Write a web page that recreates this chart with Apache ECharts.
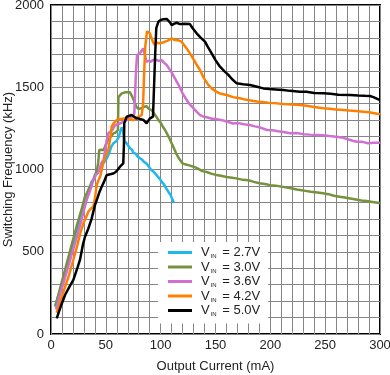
<!DOCTYPE html>
<html>
<head>
<meta charset="utf-8">
<script src="https://cdn.jsdelivr.net/npm/echarts@6/dist/echarts.min.js"></script>
<style>
  html, body { margin: 0; padding: 0; background: #fff; }
  #main { width: 390px; height: 375px; }
</style>
</head>
<body>
<div id="main"></div>
<script>
// [output current mA, switching frequency kHz]
var vin27 = [[3.6,166],[8,260],[12,350],[16,440],[20,531],[24,630],[28,720],[31,790],[34,855],[36,900],[37,926],[39,940],[40,967],[42,975],[43,990],[45,1000],[47,1030],[49,1050],[51,1068],[53,1100],[55,1139],[57,1160],[58,1169],[60,1175],[62,1200],[63,1230],[64.5,1255],[65.5,1240],[67,1175],[68,1165],[70,1150],[72,1129],[74,1120],[75,1100],[76,1110],[77,1098],[79,1078],[81,1070],[83,1060],[85,1045],[87,1037],[89,1020],[91,1000],[93,990],[95,976],[97,960],[99,945],[101,925],[103,910],[105,885],[107,865],[109,845],[111,815],[112,800]];
var vin30 = [[4,170],[8,270],[12,370],[16,470],[20,571],[24,670],[28,760],[31,835],[33,860],[35,890],[36,900],[38,930],[40,960],[42,1000],[43,1040],[44,1119],[46,1120],[48,1118],[50,1150],[52,1180],[54,1195],[57,1220],[59,1225],[61,1240],[61.5,1440],[63,1450],[64.5,1463],[66,1465],[68,1470],[70,1470],[71,1460],[72,1470],[73.5,1463],[75,1430],[76.5,1402],[78,1380],[80,1368],[81,1362],[83,1375],[85,1382],[87,1385],[89,1370],[90,1372],[92,1360],[94,1340],[96,1321],[98,1300],[100,1285],[102,1260],[104,1240],[106,1215],[108,1189],[110,1160],[112,1130],[114,1100],[116,1075],[118,1055],[120,1037],[123,1030],[126,1025],[130,1017],[134,1005],[138,990],[142,985],[146,975],[151,966],[156,960],[160,955],[165,950],[169,946],[175,937],[180,935],[185,925],[190,916],[195,912],[200,905],[205,902],[210,896],[215,890],[220,885],[224,878],[227,875],[232,870],[237,865],[243,860],[248,855],[253,850],[258,840],[263,835],[268,830],[273,824],[278,818],[283,812],[288,808],[293,803],[298,798],[300,795]];
var vin36 = [[4.5,150],[8,235],[12,325],[16,415],[20,510],[24,600],[28,700],[32.5,815],[35,860],[37,900],[38.6,936],[40,950],[41,970],[43,980],[44.7,987],[46,1040],[48,1060],[49,1100],[50.8,1179],[52.3,1220],[54,1225],[56,1240],[58.4,1270],[60,1275],[63,1280],[66,1290],[69,1300],[72,1311],[74,1320],[76,1340],[77,1343],[77.5,1600],[78.5,1696],[81,1706],[82.5,1720],[84,1736],[85.5,1700],[87,1655],[89,1660],[91,1655],[93,1665],[96,1666],[99,1660],[101,1665],[103,1650],[105.5,1635],[108,1610],[110,1590],[113,1554],[115,1530],[117,1505],[120,1463],[123,1430],[126,1400],[130,1372],[133,1350],[136,1331],[139,1321],[142,1318],[146,1310],[151,1306],[156,1300],[161,1290],[166,1280],[171,1282],[176,1275],[181,1270],[186,1262],[191,1255],[197,1240],[202,1238],[207,1232],[212,1228],[218,1220],[224,1222],[230,1215],[236,1212],[242,1210],[248,1208],[254,1203],[260,1199],[265,1195],[270,1185],[275,1175],[279,1169],[284,1168],[289,1160],[294,1162],[298,1163],[300,1162]];
var vin42 = [[5.2,128],[9,210],[13,290],[16.5,360],[20.3,450],[24,540],[27,620],[29.5,673],[32,710],[34,743],[36,760],[38.6,774],[40,820],[41.7,906],[43,930],[45,960],[46.2,997],[48,1050],[50.8,1098],[52.3,1120],[53.8,1179],[55.3,1260],[57,1280],[59.9,1301],[62,1305],[65,1308],[69,1311],[72,1305],[75,1301],[77,1305],[79,1320],[82.7,1331],[84,1400],[85,1600],[86,1750],[87.5,1840],[88.7,1848],[90,1830],[91.8,1797],[93,1775],[94.8,1757],[96.4,1770],[99.4,1767],[102,1772],[104,1777],[107,1785],[110,1797],[111.5,1790],[113,1787],[116,1785],[119,1777],[121,1760],[123.7,1736],[126.7,1706],[130,1670],[133,1635],[135.9,1605],[139,1560],[143.4,1514],[147,1490],[151,1472],[155,1460],[160.2,1453],[166,1440],[172.3,1433],[177,1425],[182,1420],[187.6,1413],[193,1410],[199,1405],[205.8,1402],[212,1398],[219,1395],[227,1392],[233,1388],[240,1380],[248.3,1372],[254,1370],[260,1365],[266.5,1362],[272,1358],[278,1355],[284.8,1351],[290,1348],[295,1342],[298.5,1337],[300,1335]];
var vin50 = [[5.2,95],[9,170],[13,240],[17,290],[20.3,328],[24,400],[26.4,450],[29,540],[31,591],[34,640],[37,700],[40.1,784],[42,820],[44,860],[46.2,895],[48,920],[50.8,966],[53,970],[56.8,976],[59,985],[61,1000],[62.9,1017],[65.9,1037],[66.5,1150],[66.8,1280],[69,1321],[71,1325],[73.5,1331],[76,1320],[78.1,1311],[80,1310],[82,1305],[84.2,1301],[86,1290],[87.2,1280],[88.5,1295],[90.3,1311],[93,1321],[94.5,1330],[95,1700],[96,1860],[97.9,1898],[100,1909],[102.4,1913],[104,1905],[105.5,1915],[107,1909],[108.5,1895],[110,1878],[112,1885],[114.6,1892],[117,1885],[119.2,1884],[122,1886],[126.7,1884],[129,1860],[132.8,1828],[136,1805],[140.4,1777],[143,1745],[146.5,1706],[150,1665],[154.1,1625],[158,1598],[161.7,1575],[165,1550],[169.3,1524],[175,1518],[181.5,1514],[187,1505],[193.6,1493],[199,1490],[205,1487],[211.8,1483],[218,1478],[227,1473],[233,1472],[240,1465],[248.3,1463],[255,1460],[262,1455],[272.6,1453],[280,1450],[286,1448],[290.9,1447],[294,1440],[298.5,1426],[300,1425]];

var seriesNames = ['2.7V', '3.0V', '3.6V', '4.2V', '5.0V'];
var seriesData = [vin27, vin30, vin36, vin42, vin50];
var seriesColors = ['#1EB8EE', '#76923C', '#D070D0', '#FF8000', '#000000'];

var chartDom = document.getElementById('main');
var myChart = echarts.init(chartDom);
var option;

var fontFamily = '"Liberation Sans", Arial, sans-serif';

option = {
    animation: false,
    textStyle: { fontFamily: fontFamily },
    grid: {
        left: 51,
        right: 10,
        top: 5,
        bottom: 41,
        outerBoundsMode: 'none',
        containLabel: false,
        show: true,
        borderColor: '#000',
        borderWidth: 2
    },
    legend: {
        orient: 'vertical',
        left: 158,
        top: 242,
        z: 4,
        backgroundColor: '#fff',
        padding: [4, 8, 6, 10],
        itemGap: 1,
        itemWidth: 24,
        itemHeight: 3,
        icon: 'rect',
        data: seriesNames,
        formatter: function (name) {
            return '{v|V}{s|IN}{v| = ' + name + '}';
        },
        textStyle: {
            padding: [0, 0, 0, 4],
            rich: {
                v: { fontSize: 13, color: '#222', lineHeight: 14, fontFamily: fontFamily },
                s: { fontSize: 6, color: '#222', lineHeight: 14, verticalAlign: 'bottom', padding: [0, 2, 0, 1], fontFamily: fontFamily }
            }
        }
    },
    xAxis: [{
        type: 'value',
        min: 0,
        max: 300,
        interval: 10,
        name: 'Output Current (mA)',
        nameLocation: 'middle',
        nameGap: 26,
        nameTextStyle: { color: '#222', fontSize: 13 },
        axisLine: { show: false },
        axisTick: { show: false },
        axisLabel: {
            color: '#222',
            fontSize: 13,
            margin: 5,
            formatter: function (v) { return v % 50 === 0 ? v : ''; }
        },
        splitLine: { lineStyle: { color: '#858585', width: 1 } }
    }, {
        // small inside ticks drawn over the legend box
        type: 'value',
        min: 0,
        max: 300,
        interval: 10,
        position: 'bottom',
        z: 10,
        axisLine: { show: false },
        axisTick: { show: true, inside: true, length: 3, lineStyle: { color: '#999' } },
        axisLabel: { show: false },
        splitLine: { show: false }
    }],
    yAxis: {
        type: 'value',
        min: 0,
        max: 2000,
        interval: 100,
        name: 'Switching Frequency (kHz)',
        nameLocation: 'middle',
        nameGap: 36,
        nameMoveOverlap: false,
        nameTextStyle: { color: '#222', fontSize: 13 },
        axisLine: { show: false },
        axisTick: { show: false },
        axisLabel: {
            color: '#222',
            fontSize: 13,
            margin: 7,
            formatter: function (v) { return v % 500 === 0 ? v : ''; }
        },
        splitLine: { lineStyle: { color: '#858585', width: 1 } }
    },
    series: seriesNames.map(function (n, i) {
        return {
            name: n,
            type: 'line',
            data: seriesData[i],
            showSymbol: false,
            symbol: 'none',
            lineStyle: { width: 2.5, color: seriesColors[i] },
            itemStyle: { color: seriesColors[i] }
        };
    })
};

option && myChart.setOption(option);

window.addEventListener('resize', myChart.resize);
</script>
</body>
</html>
